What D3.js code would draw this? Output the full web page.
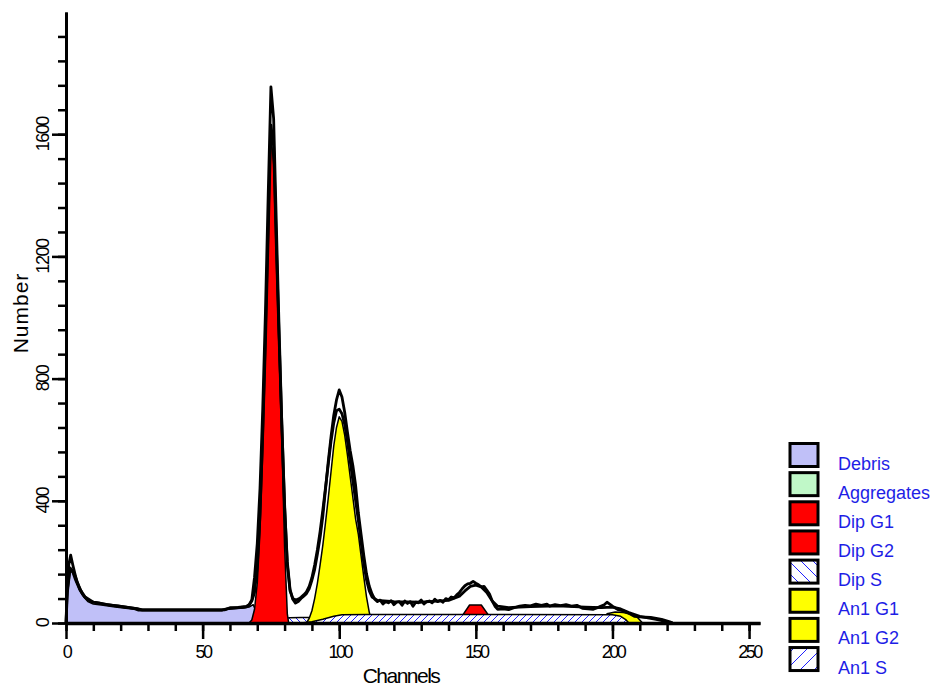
<!DOCTYPE html>
<html>
<head>
<meta charset="utf-8">
<script src="https://cdn.jsdelivr.net/npm/d3@7.9.0/dist/d3.min.js"></script>
<style>
  body { margin: 0; background: #fff; }
  svg { display: block; font-family: "Liberation Sans", Arial, sans-serif; }
</style>
</head>
<body>
<svg id="chart" width="943" height="687"></svg>
<script>
// ---- data: [channel, count] ----
const observed = [
  [0,0],[0.5,130],[1,190],[1.7,222],[2.5,190],[3.3,160],[4,135],[5,115],[6,95],[7,84],[8,76],[9,70],[10,68],
  [12,66],[13.6,63],[15,60],[17,58],[19,56],[22,52],[25,48],[26,46],[27.6,43],[35,43],[45,43],[55,43],[58,43],
  [60,50],[63,51],[66,54],[67,60],[68,75],[69,150],[70,260],[71,440],[72,700],[73,1020],[74,1400],[75,1755],
  [76,1650],[77,1300],[78,960],[79,650],[80,380],[81,200],[82,110],[83,78],[84,65],[85,70],[86,80],[87,88],
  [88,96],[89,112],[90,140],[91,175],[92,225],[93,280],[94,350],[95,440],[96,530],[97,610],[98,680],[99,730],
  [100,763],[101,740],[102,690],[103,625],[104,565],[105,515],[106,450],[107,360],[108,290],[109,220],[110,160],
  [111,120],[112,95],[113,78],[114,70],[115,75],[116,62],[117,70],[118,66],[119,73],[120,60],[121,68],[122,70],
  [123,58],[124,72],[125,64],[126,70],[127,55],[128,68],[129,66],[130,75],[131,62],[132,70],[133,72],[134,66],
  [135,78],[136,70],[137,74],[138,68],[139,80],[140,76],[141,85],[142,82],[143,92],[144,100],[145,112],[146,122],
  [147,128],[148,130],[149,136],[150,130],[151,125],[152,118],[153,120],[154,108],[155,95],[156,72],[157,55],
  [158,45],[160,46],[162,44],[164,50],[166,55],[168,58],[170,56],[172,62],[174,58],[176,62],[177,55],[179,60],
  [181,57],[183,60],[185,55],[187,58],[189,48],[191,46],[193,45],[195,52],[197,60],[198,68],[199,62],[200,55],
  [202,44],[204,40],[206,32],[208,22],[210,20],[214,18],[218,12],[221,4],[222,0]
];
const fit = [
  [0,0],[0.5,100],[1.5,180],[2.5,170],[3.5,150],[5,112],[7,85],[10,68],[14,62],[20,54],[26,47],[28,43],[57,43],
  [60,48],[66,53],[67,58],[68,72],[69,100],[70,185],[71,355],[72,620],[73,920],[74,1270],[75,1630],[76,1560],
  [77,1230],[78,930],[79,650],[80,390],[81,190],[82,105],[83,80],[84,75],[85,78],[86,84],[87,92],[88,102],
  [89,120],[90,148],[91,190],[92,240],[93,300],[94,370],[95,445],[96,520],[97,595],[98,655],[99,695],[100,700],
  [101,685],[102,650],[103,595],[104,530],[105,465],[106,400],[107,335],[108,265],[109,195],[110,140],[111,105],
  [112,85],[114,74],[120,70],[130,68],[140,74],[144,88],[146,105],[148,120],[150,124],[152,118],[154,100],
  [156,72],[158,55],[162,50],[170,54],[180,56],[190,52],[196,50],[200,52],[203,46],[206,34],[210,22],[216,12],[222,0]
];
const debris = [
  [0,0],[0.6,100],[1.5,165],[2.2,168],[3.3,140],[5,105],[6.5,85],[8,70],[10,62],[13.6,58],[18,52],[25,45],
  [26.5,40],[57,40],[59,45],[65,49],[67,52],[68.5,60],[70,30],[71,0]
];
const dipG1 = [
  [67,0],[68,10],[69,45],[70,130],[71,300],[72,560],[73,880],[74,1230],[75,1600],[76,1500],[77,1180],
  [78,880],[79,600],[80,250],[81,30],[81.5,0]
];
const anG1 = [
  [88,0],[89,15],[90,40],[91,80],[92,130],[93,190],[94,255],[95,330],[96,410],[97,495],[98,580],[99,640],
  [100,675],[101,660],[102,615],[103,550],[104,480],[105,410],[106,340],[107,290],[108,220],[109,150],
  [110,85],[111,35],[112,0]
];
const dipS = [[72,0],[75,10],[78,15],[82,17],[86,18],[90,18],[100,19],[130,19],[147,17],[152,6],[154,0]];
const dipG2 = [[144,0],[145.5,30],[147.7,59],[152,59],[154.3,30],[156,0]];
const anG2 = [[196,0],[198,30],[201,36],[204,34],[207,28],[209,20],[211,0]];
const anS = [[86,0],[90,4],[94,12],[98,22],[101,27],[110,28],[200,27],[203,22],[205,10],[206,0]];

const yMajor = [0, 400, 800, 1200, 1600];
const xMajor = [0, 50, 100, 150, 200, 250];
const legendLabels = ['Debris', 'Aggregates', 'Dip G1', 'Dip G2', 'Dip S', 'An1 G1', 'An1 G2', 'An1 S'];
const legendFills = ['#c0c0f8', '#c0f8c8', '#ff0000', '#ff0000', 'url(#hatchDipL)', '#ffff00', '#ffff00', 'url(#hatchAnL)'];

// ---- scales ----
const x = d3.scaleLinear().domain([0, 254]).range([66, 760]);
const y = d3.scaleLinear().domain([0, 2000]).range([623, 12]);

const svg = d3.select('#chart');
const defs = svg.append('defs');

// hatch patterns for S phases (legend boxes use a wider spacing)
function hatch(id, size, back) {
  const p = defs.append('pattern').attr('id', id)
    .attr('patternUnits', 'userSpaceOnUse').attr('width', size).attr('height', size);
  p.append('rect').attr('width', size).attr('height', size).attr('fill', '#fff');
  const s = size;
  const d = back
    ? `M0,0L${s},${s}M-1,${s - 1}L1,${s + 1}M${s - 1},-1L${s + 1},1`
    : `M0,${s}L${s},0M-1,1L1,-1M${s - 1},${s + 1}L${s + 1},${s - 1}`;
  p.append('path').attr('d', d).attr('stroke', '#2020ff').attr('stroke-width', 1);
}
hatch('hatchDip', 7, true);
hatch('hatchAn', 7, false);
hatch('hatchDipL', 12, true);
hatch('hatchAnL', 14, false);

const area = d3.area()
  .x(d => x(d[0]))
  .y0(y(0))
  .y1(d => y(d[1]));

const components = [
  [debris, '#c0c0f8'],
  [dipS, 'url(#hatchDip)'],
  [dipG1, '#ff0000'],
  [anG1, '#ffff00'],
  [dipG2, '#ff0000'],
  [anG2, '#ffff00'],
  [anS, 'url(#hatchAn)']
];
components.forEach(([data, fill]) => {
  svg.append('path')
    .datum(data)
    .attr('d', area)
    .attr('fill', fill)
    .attr('stroke', '#000')
    .attr('stroke-width', 1.5)
    .attr('stroke-linejoin', 'round');
});

const line = d3.line().x(d => x(d[0])).y(d => y(d[1]));
[fit, observed].forEach(data => {
  svg.append('path')
    .datum(data)
    .attr('d', line)
    .attr('fill', 'none')
    .attr('stroke', '#000')
    .attr('stroke-width', 2.8)
    .attr('stroke-linejoin', 'round');
});

// ---- axes ----
const xMinor = svg.append('g').attr('transform', `translate(0,${y(0)})`)
  .call(d3.axisBottom(x).tickValues(d3.range(0, 251, 10)).tickSize(8).tickSizeOuter(0).tickFormat(''));
const xMaj = svg.append('g').attr('transform', `translate(0,${y(0)})`)
  .call(d3.axisBottom(x).tickValues(xMajor).tickSize(16).tickSizeOuter(0).tickPadding(6));
xMaj.selectAll('text')
  .attr('font-size', 18)
  .attr('letter-spacing', -2.5)
  .attr('fill', '#000')
  .attr('font-family', '"Liberation Sans", Arial, sans-serif');

const yMinor = svg.append('g').attr('transform', `translate(${x(0)},0)`)
  .call(d3.axisLeft(y).tickValues(d3.range(0, 2000, 80)).tickSize(8).tickSizeOuter(0).tickFormat(''));
const yMaj = svg.append('g').attr('transform', `translate(${x(0)},0)`)
  .call(d3.axisLeft(y).tickValues(yMajor).tickSize(14).tickSizeOuter(0).tickFormat(''));

[xMinor, xMaj, yMinor, yMaj].forEach(g => {
  g.selectAll('path, line').attr('stroke', '#000').attr('stroke-width', 2.5);
});
xMaj.select('.domain').attr('stroke-width', 3.5);
yMaj.select('.domain').attr('stroke-width', 3);

svg.append('g').selectAll('text')
  .data(yMajor)
  .join('text')
  .attr('transform', d => `translate(43,${y(d)}) rotate(-90)`)
  .attr('text-anchor', 'middle')
  .attr('dy', '0.35em')
  .attr('font-size', 18)
  .attr('letter-spacing', -1.5)
  .text(d => d);

svg.append('text')
  .attr('transform', `translate(21,313) rotate(-90)`)
  .attr('text-anchor', 'middle')
  .attr('dy', '0.35em')
  .attr('font-size', 21)
  .attr('letter-spacing', 1)
  .text('Number');

svg.append('text')
  .attr('x', 401)
  .attr('y', 683)
  .attr('text-anchor', 'middle')
  .attr('font-size', 21)
  .attr('letter-spacing', -1.5)
  .text('Channels');

// ---- legend ----
const legend = svg.append('g');
legendLabels.forEach((label, i) => {
  const top = 443.5 + i * 29.15;
  legend.append('rect')
    .attr('x', 790).attr('y', top)
    .attr('width', 28).attr('height', 23)
    .attr('fill', legendFills[i])
    .attr('stroke', '#000')
    .attr('stroke-width', 3);
  legend.append('text')
    .attr('x', 838).attr('y', top + 26)
    .attr('font-size', 18)
    .attr('fill', '#1e1ee6')
    .text(label);
});
</script>
</body>
</html>
